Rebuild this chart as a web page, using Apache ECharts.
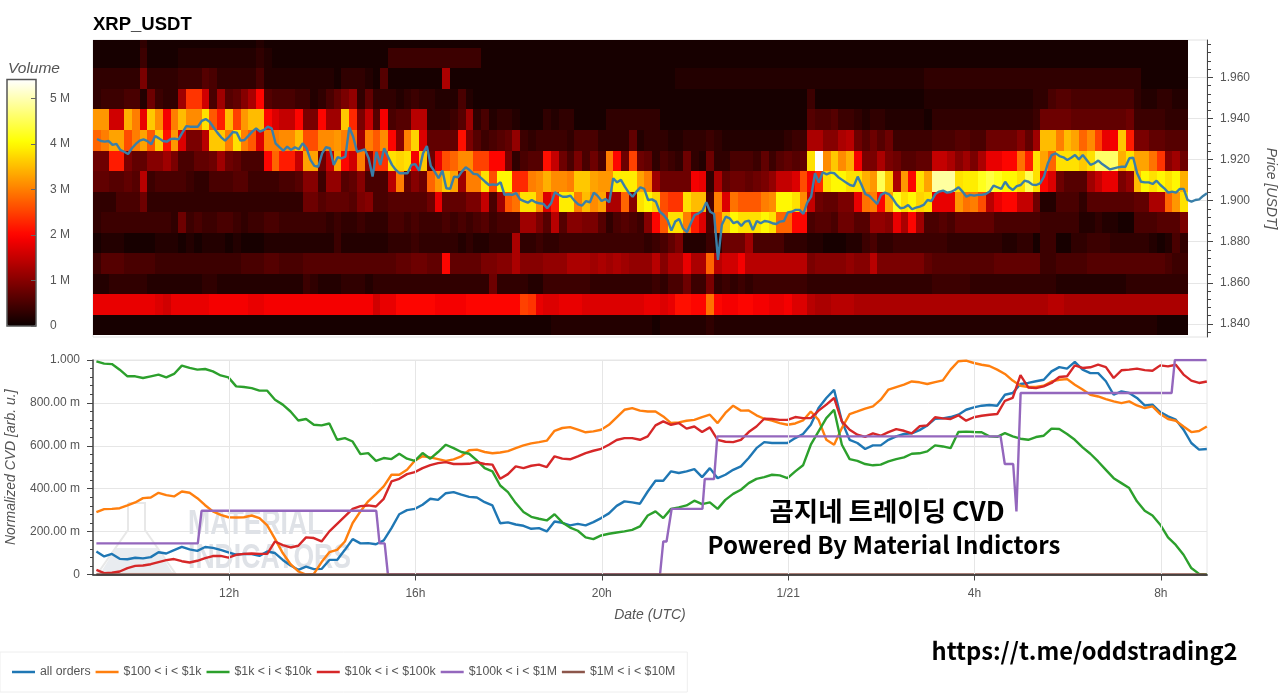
<!DOCTYPE html>
<html>
<head>
<meta charset="utf-8">
<title>XRP_USDT</title>
<script src="https://cdn.jsdelivr.net/npm/echarts@6/dist/echarts.min.js"></script>
<style>
  html, body { margin: 0; padding: 0; background: #fff; overflow: hidden; }
  #chart { width: 1280px; height: 693px; }
</style>
</head>
<body>
<div id="chart"></div>
<script>
// ── Heatmap values: volume per 10-min column, in 0.1 M, one array per price bin ──

const vol1979 = [1,1,1,1,1,1,3,1,1,1,1,1,1,1,1,1,1,1,1,1,1,2,1,1,1,1,1,1,1,1,1,1,1,1,1,1,
  1,1,1,1,1,1,1,1,1,1,1,1,1,1,1,1,1,1,1,1,1,1,1,1,1,1,1,1,1,1,1,1,1,1,1,
  1,1,1,1,1,1,1,1,1,1,1,1,1,1,1,1,1,1,1,1,1,1,1,1,1,1,1,1,1,1,1,1,1,1,1,1,
  1,1,1,1,1,1,1,1,1,1,1,1,1,1,1,1,1,1,1,1,1,1,1,1,1,1,1,1,1,1,1,1,1,1];
const vol1969 = [1,1,1,1,1,1,4,1,1,1,1,2,2,2,2,2,2,2,2,2,2,3,2,1,1,1,1,1,1,1,1,1,1,1,1,1,
  1,1,4,4,4,4,4,4,4,4,4,4,4,4,1,1,1,1,1,1,1,1,1,1,1,1,1,1,1,1,1,1,1,1,1,
  1,1,1,1,1,1,1,1,1,1,1,1,1,1,1,1,1,1,1,1,1,1,1,1,1,1,1,1,1,1,1,1,1,1,1,1,
  1,1,1,1,1,1,1,1,1,1,1,1,1,1,1,1,1,1,1,1,1,1,1,1,1,1,1,1,1,1,1,1,1,1];
const vol1959 = [3,3,3,3,3,3,9,3,3,3,3,4,4,4,6,5,3,3,3,3,3,5,2,2,2,2,2,2,2,2,2,1,3,3,3,2,
  1,6,1,1,1,1,1,1,1,13,1,1,1,1,1,1,1,1,1,1,1,1,1,1,1,1,1,1,1,1,1,1,1,1,1,
  1,1,1,1,2,2,2,2,2,2,2,2,2,2,2,2,2,2,2,2,2,2,2,2,2,2,2,2,2,2,2,2,2,2,2,2,
  3,3,3,3,3,3,3,3,3,3,3,3,3,3,3,3,3,3,3,3,3,3,3,3,3,3,3,3,1,1,1,1,1,1];
const vol1949 = [3,4,4,4,5,5,2,8,4,3,3,12,24,24,16,5,12,6,7,10,13,20,6,5,5,5,4,4,2,3,5,7,9,11,3,7,
  3,3,3,2,3,4,3,3,2,2,2,5,2,1,1,1,1,1,1,1,1,1,1,1,1,1,1,1,1,1,1,1,1,1,1,
  1,1,1,1,1,1,1,1,1,1,1,1,1,1,1,1,1,1,1,1,1,4,1,1,1,1,1,1,1,1,1,1,1,1,1,1,
  2,2,2,2,2,2,2,2,2,2,2,2,2,2,3,3,5,6,6,5,5,5,5,5,5,5,5,3,2,2,3,3,2,2];
const vol1939 = [32,32,16,16,34,30,18,36,31,19,30,35,31,31,38,27,22,35,25,32,35,35,20,17,15,15,20,9,9,20,12,12,36,23,9,15,
  6,19,5,6,6,14,14,3,3,3,4,6,12,3,5,2,3,3,2,1,1,1,3,2,3,3,1,1,1,1,3,3,3,3,3,
  3,3,1,1,1,1,1,1,1,1,1,1,1,1,1,1,1,1,1,1,1,6,5,5,6,4,4,3,2,3,3,2,2,2,2,2,
  1,3,3,3,3,3,3,3,3,3,3,3,3,3,4,8,8,8,8,7,7,7,7,7,7,7,8,4,4,4,4,3,3,3];
const vol1929 = [28,30,33,33,26,30,33,27,36,21,32,17,9,9,14,36,36,30,38,30,27,17,30,30,31,31,35,26,26,31,31,32,30,29,12,30,
  27,31,20,10,30,37,17,7,7,7,7,21,9,6,4,5,6,7,11,4,3,4,4,4,4,3,5,5,5,3,3,3,3,7,2,
  3,3,3,2,2,3,3,3,4,3,2,2,2,2,2,2,2,2,3,4,4,13,13,10,10,13,14,8,6,8,6,8,4,4,4,4,
  4,5,5,5,6,6,5,5,8,8,8,8,10,7,12,35,35,30,35,33,28,31,25,18,19,36,22,9,9,7,7,6,6,6];
const vol1919 = [8,8,22,22,9,7,7,10,10,12,9,5,5,7,7,8,12,8,7,5,5,5,20,28,22,22,15,33,33,8,15,33,20,16,30,11,
  24,24,38,37,38,19,36,8,18,26,28,31,31,25,25,20,20,9,3,5,6,6,21,15,8,5,9,5,8,5,30,20,8,25,8,
  7,3,5,4,3,8,3,2,8,3,3,5,5,5,4,7,4,6,7,6,7,38,54,31,36,31,34,19,9,9,13,9,8,6,6,7,
  7,15,15,13,10,12,9,13,18,18,20,20,29,22,38,33,28,38,38,38,36,38,46,46,46,34,38,33,33,29,24,10,12,8];
const vol1909 = [7,7,6,6,7,6,14,4,5,5,5,5,4,3,3,5,5,5,6,6,4,4,4,4,5,5,6,10,10,4,11,11,6,7,10,5,
  5,5,14,30,7,10,8,28,32,36,33,12,30,30,38,26,40,40,23,23,30,31,34,31,31,30,36,36,33,32,32,39,39,39,33,
  30,12,8,8,8,8,19,18,3,13,7,8,8,7,8,9,11,15,15,17,26,19,23,38,40,40,38,38,34,32,45,36,13,32,20,38,
  33,49,49,49,38,39,39,42,44,42,40,40,38,45,38,20,17,8,6,6,6,12,15,18,18,9,11,35,40,38,40,38,40,34];
const vol1899 = [3,3,3,5,5,5,8,3,3,3,3,3,3,3,3,3,3,3,3,3,3,3,3,3,3,3,3,8,8,6,7,7,7,6,9,10,
  5,5,6,6,6,6,6,8,18,7,7,7,9,9,15,5,12,27,29,38,38,31,17,22,39,39,30,35,31,33,13,13,28,10,38,
  40,37,26,24,24,38,35,35,5,30,17,29,27,27,27,30,31,40,40,38,31,15,8,7,7,9,9,18,29,30,20,33,42,38,40,37,
  38,18,18,18,32,29,30,26,14,18,20,20,15,15,8,2,2,5,5,5,3,6,6,6,6,6,6,7,7,13,13,28,32,38];
const vol1889 = [3,4,4,4,4,4,4,4,4,4,3,8,4,5,4,4,5,5,4,3,4,4,5,5,4,4,4,4,4,4,3,4,3,3,4,3,
  3,3,5,5,4,5,4,4,4,5,4,5,4,5,6,4,5,5,5,12,12,9,6,14,6,10,10,9,9,6,3,5,6,5,4,
  10,20,27,38,38,30,22,17,5,28,36,40,38,38,38,40,38,28,28,20,20,5,6,6,5,8,8,6,6,11,11,10,18,13,20,12,
  5,5,6,5,7,7,7,7,7,5,5,5,5,5,5,4,4,4,4,4,2,2,3,2,2,1,1,5,5,5,6,6,6,9];
const vol1879 = [1,2,2,2,1,1,1,1,2,2,2,1,2,1,2,2,2,1,2,1,1,1,2,2,2,2,2,2,2,2,2,4,2,2,2,2,
  2,2,3,3,3,4,3,3,3,3,3,2,3,2,2,3,3,3,13,3,3,4,3,3,4,4,4,4,4,4,4,4,4,4,4,
  3,4,5,7,9,2,2,2,4,3,8,8,8,12,5,5,5,5,3,3,3,2,2,1,1,1,2,2,4,5,3,3,4,4,4,4,
  4,4,4,3,3,3,3,3,3,3,2,2,3,3,1,4,4,1,1,3,3,4,4,4,3,3,3,3,3,2,1,2,5,3];
const vol1869 = [4,6,6,6,5,5,5,5,4,4,4,4,4,4,4,4,4,4,4,5,5,5,6,6,5,5,5,6,6,6,6,6,6,6,6,6,
  6,6,6,7,7,8,8,7,7,20,7,7,7,7,9,9,10,10,13,10,10,10,11,11,11,13,13,13,12,13,12,13,12,11,11,
  11,14,10,13,13,18,13,13,28,14,16,16,19,14,14,14,14,14,14,14,14,9,10,10,10,10,11,10,10,14,9,9,9,9,9,9,
  7,6,6,6,6,6,6,6,6,7,7,7,7,7,7,4,4,5,5,5,5,6,6,6,6,6,6,6,6,6,6,5,4,4];
const vol1859 = [2,2,3,3,3,3,3,2,2,2,2,2,2,2,3,3,2,2,2,2,2,2,2,2,2,2,2,4,3,2,2,2,3,3,3,2,
  3,3,3,3,3,3,3,3,3,3,3,3,3,3,3,8,3,3,3,3,2,2,4,4,4,4,4,4,3,3,3,3,3,3,3,
  3,4,3,5,5,8,4,4,9,3,4,3,4,3,4,4,4,4,4,4,4,3,3,3,3,3,3,3,3,3,3,3,3,3,3,3,
  3,4,4,4,4,4,3,3,3,3,3,3,3,3,3,3,3,2,2,2,2,2,2,2,2,2,3,3,3,3,3,3,3,3];
const vol1849 = [18,18,18,18,18,18,18,18,17,16,18,18,18,18,18,19,19,19,19,19,18,18,19,19,19,19,19,19,19,19,19,19,19,19,19,19,
  16,18,18,20,20,20,20,20,19,19,19,19,20,20,20,20,20,20,20,25,24,18,17,17,18,18,18,17,17,17,17,17,17,17,17,
  18,18,17,18,21,21,20,20,29,20,19,19,20,20,19,19,18,18,19,17,17,14,13,13,14,14,14,13,13,13,13,13,13,13,13,13,
  13,13,13,13,13,13,13,13,13,13,13,13,13,13,13,13,14,14,13,13,13,13,13,13,13,13,13,13,13,13,13,13,13,13];
const vol1839 = [1,1,1,1,1,1,1,1,1,1,1,1,1,1,1,1,1,1,1,1,1,1,1,1,1,1,1,1,1,1,1,1,1,1,1,1,
  1,1,1,1,1,1,1,1,1,1,1,1,1,1,1,1,1,1,1,1,1,1,1,2,2,2,2,2,2,2,2,2,2,2,2,
  2,1,2,2,2,2,2,2,3,2,2,2,2,2,2,2,2,2,2,2,2,2,2,2,2,2,2,2,2,2,2,2,2,2,2,2,
  2,2,2,2,2,2,2,2,2,2,2,2,2,2,2,2,2,2,2,2,2,2,2,2,2,2,2,2,2,2,1,1,1,1];

const volumeBands = [vol1839, vol1849, vol1859, vol1869, vol1879, vol1889, vol1899,
  vol1909, vol1919, vol1929, vol1939, vol1949, vol1959, vol1969, vol1979];

// ── Price line (5-min closes) ───────────────────────────────────────────────

const priceLine = [
  1.9300,1.9290,1.9287,1.9290,1.9271,1.9276,1.9247,1.9238,1.9227,1.9255,1.9276,1.9292,1.9298,1.9290,1.9274,1.9315,
  1.9303,1.9290,1.9287,1.9300,1.9302,1.9298,1.9331,1.9363,1.9360,1.9360,1.9360,1.9388,1.9397,1.9384,1.9357,1.9331,
  1.9308,1.9292,1.9311,1.9334,1.9331,1.9292,1.9295,1.9315,1.9336,1.9352,1.9336,1.9344,1.9360,1.9352,1.9279,1.9260,
  1.9243,1.9263,1.9247,1.9260,1.9250,1.9279,1.9255,1.9198,1.9169,1.9165,1.9230,1.9260,1.9255,1.9174,1.9211,1.9206,
  1.9214,1.9357,1.9311,1.9238,1.9243,1.9250,1.9206,1.9117,
  1.9238,1.9174,1.9255,1.9214,1.9174,1.9149,1.9133,1.9133,1.9133,1.9174,1.9178,1.9146,1.9230,1.9266,1.9169,1.9141,
  1.9109,1.9146,1.9060,1.9057,1.9117,1.9114,1.9141,1.9162,1.9149,1.9130,1.9128,1.9109,1.9092,1.9076,1.9079,1.9076,
  1.9089,1.9028,1.9031,1.9028,1.9036,1.9006,1.8998,1.8990,1.9003,1.8992,1.8987,1.8984,1.8963,1.8987,1.9041,1.9028,
  1.9019,1.9019,1.9024,1.9000,1.8982,1.8976,1.8998,1.8992,1.9039,1.9023,1.8998,1.9008,1.8992,1.9109,1.9089,1.9101,
  1.9068,1.9039,1.9019,1.9044,1.9065,1.9057,1.9003,
  1.9006,1.8995,1.8946,1.8930,1.8906,1.8854,1.8898,1.8911,1.8865,1.8846,1.8890,1.8930,1.8938,1.8951,1.8992,1.8946,
  1.8935,1.8711,1.8882,1.8922,1.8914,1.8890,1.8898,1.8877,1.8898,1.8903,1.8857,1.8901,1.8890,1.8901,1.8898,1.8890,
  1.8886,1.8898,1.8901,1.8943,1.8946,1.8955,1.8955,1.8935,1.8990,1.9019,1.9133,1.9088,1.9138,1.9128,1.9136,1.9133,
  1.9114,1.9101,1.9088,1.9076,1.9071,1.9117,1.9076,1.9031,1.9023,1.9003,1.8984,1.9028,1.9039,1.9032,1.9011,1.8982,
  1.8963,1.8966,1.8979,1.8958,1.8966,1.8971,1.8979,
  1.9003,1.8998,1.9032,1.9044,1.9049,1.9039,1.9042,1.9052,1.9065,1.9044,1.9019,1.9028,1.9024,1.9028,1.9028,1.9032,
  1.9044,1.9073,1.9065,1.9057,1.9092,1.9065,1.9052,1.9071,1.9076,1.9097,1.9092,1.9078,1.9076,1.9084,1.9117,1.9182,
  1.9222,1.9230,1.9217,1.9211,1.9198,1.9209,1.9222,1.9201,1.9222,1.9198,1.9174,1.9182,1.9195,1.9178,1.9165,1.9152,
  1.9157,1.9162,1.9165,1.9165,1.9206,1.9209,1.9133,1.9092,1.9089,1.9089,1.9081,1.9097,1.9076,1.9060,1.9039,1.9044,
  1.9039,1.9057,1.9057,1.9003,1.8995,1.9003,1.9006,1.9023,1.9036];

// ── Normalized CVD (10-min samples) ─────────────────────────────────────────

const cvdAll = [
  .107,.084,.096,.073,.071,.078,.075,.081,.104,.098,.114,.129,.117,.110,.128,.124,.115,.103,.092,.096,.095,.087,.107,.100,
  .068,.042,.022,.037,.025,.026,.068,.068,.115,.165,.145,.146,.141,.159,.216,.281,.300,.306,.325,.353,.348,.379,.384,.372,
  .362,.359,.337,.322,.239,.243,.233,.227,.213,.216,.201,.247,.241,.229,.236,.229,.244,.263,.285,.320,.341,.336,.330,.387,
  .437,.437,.481,.473,.481,.491,.454,.496,.449,.465,.488,.504,.543,.589,.617,.613,.613,.613,.636,.655,.698,.776,.823,.861,
  .714,.628,.613,.585,.602,.602,.628,.644,.655,.658,.673,.695,.726,.728,.734,.745,.768,.779,.787,.790,.787,.838,.846,.888,
  .893,.901,.908,.947,.967,.960,.991,.955,.939,.939,.901,.838,.854,.846,.823,.788,.792,.757,.737,.722,.675,.613,.582,.585];
const cvd100to1k = [
  .291,.305,.306,.309,.322,.336,.356,.359,.381,.370,.364,.387,.381,.356,.323,.294,.278,.267,.266,.267,.275,.263,.229,.166,
  .100,.048,.014,0,.003,.058,.104,.115,.154,.240,.294,.341,.375,.411,.465,.465,.488,.530,.551,.546,.538,.530,.537,.551,
  .579,.582,.571,.565,.569,.575,.589,.602,.611,.617,.624,.670,.683,.687,.675,.663,.667,.675,.698,.733,.768,.776,.764,.760,
  .760,.737,.706,.709,.717,.721,.734,.745,.706,.753,.787,.764,.765,.742,.726,.717,.706,.698,.704,.718,.760,.721,.628,.605,
  .683,.748,.760,.773,.784,.815,.862,.874,.885,.900,.896,.888,.897,.905,.955,.994,.997,.986,.978,.972,.955,.935,.904,.880,
  .874,.874,.880,.900,.908,.911,.885,.862,.838,.830,.818,.807,.799,.807,.788,.776,.784,.748,.725,.717,.690,.664,.669,.690];
const cvd1kto10k = [
  .994,.983,.981,.955,.924,.924,.916,.924,.932,.919,.935,.974,.963,.955,.958,.947,.928,.919,.877,.874,.869,.857,.857,.815,
  .792,.760,.718,.725,.698,.695,.704,.628,.636,.620,.561,.566,.530,.543,.538,.563,.540,.530,.566,.540,.571,.605,.589,.571,
  .563,.532,.496,.481,.415,.384,.333,.291,.269,.260,.252,.281,.243,.219,.204,.173,.165,.182,.190,.196,.201,.208,.224,.275,
  .294,.263,.306,.313,.322,.344,.328,.336,.306,.348,.376,.395,.426,.446,.454,.465,.462,.449,.481,.509,.605,.667,.729,.768,
  .605,.538,.530,.515,.509,.512,.527,.538,.546,.563,.565,.574,.602,.597,.589,.664,.666,.664,.663,.644,.642,.659,.644,.633,
  .628,.641,.647,.680,.678,.655,.628,.593,.563,.527,.488,.449,.426,.403,.341,.297,.275,.232,.173,.138,.092,.030,.003,0];
const cvd10kto100k = [
  .022,.006,.008,.014,.030,.040,.042,.048,.058,.067,.072,.062,.056,.064,.076,.086,.087,.079,.092,.096,.098,.096,.096,.154,
  .137,.126,.134,.173,.170,.154,.201,.236,.271,.306,.319,.322,.317,.353,.434,.446,.468,.477,.496,.510,.519,.524,.515,.515,
  .516,.524,.515,.512,.446,.468,.504,.496,.507,.512,.501,.551,.540,.537,.551,.566,.577,.586,.605,.627,.636,.636,.628,.644,
  .695,.714,.698,.706,.680,.690,.664,.686,.628,.619,.617,.628,.664,.690,.726,.725,.721,.721,.734,.729,.729,.764,.792,.823,
  .714,.675,.652,.642,.658,.647,.664,.678,.670,.658,.691,.695,.733,.728,.725,.742,.717,.733,.740,.745,.748,.810,.823,.930,
  .872,.869,.877,.893,.921,.924,.975,.963,.966,.978,.967,.916,.952,.955,.960,.953,.950,.975,.970,.978,.932,.904,.893,.900];

// the $100k-$1M line only moves in steps, so it keeps its own break points
const hours100kto1M = [9.153,11.33,11.41,15.16,15.23,15.34,15.41,21.25,21.32,21.39,21.50,22.16,22.21,22.41,22.48,
  28.56,28.65,28.83,28.90,28.99,32.23,32.30,32.98];
const cvd100kto1M = [.145,.145,.297,.297,.145,.145,0,0,.154,.154,.306,.306,.445,.445,.644,
  .644,.515,.515,.294,.846,.846,1,1];

const hours1Mto10M = [9.153, 32.98];
const cvd1Mto10M = [0, 0];

const seriesNames = ['all orders', '$100 < i < $1k', '$1k < i < $10k', '$10k < i < $100k', '$100k < i < $1M', '$1M < i < $10M'];
const seriesColors = ['#1f77b4', '#ff7f0e', '#2ca02c', '#d62728', '#9467bd', '#8c564b'];

const priceTicks = [1.84, 1.86, 1.88, 1.90, 1.92, 1.94, 1.96];
const hourTicks = [12, 16, 20, 24, 28, 32];
const volumeTicks = [0, 1, 2, 3, 4, 5];

// ── Axis ranges and bin sizes ───────────────────────────────────────────────

const START_HOUR = 9.08, END_HOUR = 32.99;
const COLUMN_HOURS = 1 / 6;
const BIN_SIZE = 0.01, FIRST_BIN_LOW = 1.8344;
const PRICE_MIN = 1.8336, PRICE_MAX = 1.9782;
const VOLUME_MAX = 5.42;

const LABEL_COLOR = '#555';
const AXIS_COLOR = '#444';
const FONT = '"Liberation Sans", Arial, sans-serif';

// ── Colour map (matplotlib style "hot") ─────────────────────────────────────

function hotColor(t) {
  const clamp = v => Math.round(Math.min(1, Math.max(0, v)) * 255);
  return `rgb(${clamp(0.0416 + t / 0.365 * 0.9584)},${clamp((t - 0.365) / 0.381)},${clamp((t - 0.746) / 0.254)})`;
}
const hotPalette = Array.from({ length: 41 }, (_, i) => hotColor(i / 40));

// ── Building series data ────────────────────────────────────────────────────

const heatData = [];
volumeBands.forEach((band, row) => {
  band.forEach((v, col) => {
    heatData.push([START_HOUR + col * COLUMN_HOURS, FIRST_BIN_LOW + row * BIN_SIZE, v / 10]);
  });
});

const priceStep = (END_HOUR - 9.166) / (priceLine.length - 1);
const priceData = priceLine.map((p, i) => [9.166 + i * priceStep, p]);
const cvdPoints = arr => arr.map((v, i) => [9.153 + i / 6, v]);
const pairUp = (hours, values) => hours.map((h, i) => [h, values[i]]);

function renderCell(params, api) {
  // snap to whole pixels, otherwise dark seams show between the cells
  const a = api.coord([api.value(0), api.value(1) + BIN_SIZE]).map(Math.round);
  const b = api.coord([api.value(0) + COLUMN_HOURS, api.value(1)]).map(Math.round);
  const shape = echarts.graphic.clipRectByRect(
    { x: a[0], y: a[1], width: b[0] - a[0], height: b[1] - a[1] },
    { x: params.coordSys.x, y: params.coordSys.y, width: params.coordSys.width, height: params.coordSys.height },
  );
  if (!shape) return null;
  return { type: 'rect', shape, style: { fill: api.visual('color') } };
}

function cvdSeries(idx, data) {
  return {
    name: seriesNames[idx], type: 'line', xAxisIndex: 1, yAxisIndex: 2,
    data, showSymbol: false, symbol: 'none', animation: false,
    lineStyle: { color: seriesColors[idx], width: 2.4 }, itemStyle: { color: seriesColors[idx] },
  };
}

function formatCvd(v) {
  if (v === 0) return '0';
  if (v >= 1) return '1.000';
  return (v * 1000).toFixed(2) + ' m';
}

function formatHour(v) {
  if (v === 24) return '1/21';
  return (v % 24) + 'h';
}

// ── Chart ───────────────────────────────────────────────────────────────────

const minorPriceTicks = [];
for (let p = 1836; p <= 1976; p += 4) minorPriceTicks.push(p / 1000);

const echart = echarts.init(document.getElementById('chart'), null, { renderer: 'canvas' });

echart.setOption({
  animation: false,
  backgroundColor: '#fff',
  title: {
    text: 'XRP_USDT', left: 93, top: 15, padding: 0,
    textStyle: { fontFamily: FONT, fontSize: 18.5, fontWeight: 'bold', color: '#000' },
  },
  grid: [
    { left: 93, right: 73, top: 40, height: 297, show: true, borderColor: '#e2e2e2', borderWidth: 1, outerBoundsMode: 'none' },
    { left: 93, right: 73, top: 360, height: 214.5, show: true, borderColor: '#e6e6e6', borderWidth: 1, outerBoundsMode: 'none' },
    { left: 7, width: 29, top: 79.5, height: 246.5, show: true, borderColor: '#555', borderWidth: 1.5, backgroundColor: 'transparent', z: 10, outerBoundsMode: 'none' },
  ],
  xAxis: [
    { type: 'value', gridIndex: 0, min: START_HOUR, max: END_HOUR, show: false },
    {
      type: 'value', gridIndex: 1, min: START_HOUR, max: END_HOUR, z: 6,
      name: 'Date (UTC)', nameLocation: 'middle', nameGap: 34,
      nameTextStyle: { fontFamily: FONT, fontStyle: 'italic', fontSize: 14, color: LABEL_COLOR },
      axisLine: { onZero: false, lineStyle: { color: 'rgba(60,60,60,0.85)', width: 2 } },
      axisTick: { show: true, length: 6, customValues: hourTicks, lineStyle: { color: AXIS_COLOR } },
      axisLabel: { customValues: hourTicks, formatter: formatHour, margin: 13, fontFamily: FONT, fontSize: 12, color: LABEL_COLOR },
      splitLine: { show: true, lineStyle: { color: '#e6e6e6' } },
    },
    { type: 'value', gridIndex: 2, show: false, min: 0, max: 1 },
  ],
  yAxis: [
    {
      type: 'value', gridIndex: 0, position: 'right', min: PRICE_MIN, max: PRICE_MAX,
      name: 'Price [USDT]', nameLocation: 'middle', nameRotate: -90, nameGap: 57,
      nameTextStyle: { fontFamily: FONT, fontStyle: 'italic', fontSize: 14, color: LABEL_COLOR },
      axisLine: { show: true, lineStyle: { color: AXIS_COLOR } },
      axisTick: { show: true, length: 6, customValues: priceTicks, lineStyle: { color: AXIS_COLOR } },
      axisLabel: { customValues: priceTicks, formatter: v => v.toFixed(3), margin: 13, fontFamily: FONT, fontSize: 12, color: LABEL_COLOR },
      splitLine: { show: true, lineStyle: { color: '#e6e6e6' } },
    },
    {
      type: 'value', gridIndex: 0, position: 'right', min: PRICE_MIN, max: PRICE_MAX,
      axisLine: { show: false }, axisLabel: { show: false }, splitLine: { show: false },
      axisTick: { show: true, length: 4, customValues: minorPriceTicks, lineStyle: { color: AXIS_COLOR } },
    },
    {
      type: 'value', gridIndex: 1, min: 0, max: 1, interval: 0.2,
      name: 'Normalized CVD [arb. u.]', nameLocation: 'middle', nameGap: 75,
      nameTextStyle: { fontFamily: FONT, fontStyle: 'italic', fontSize: 14, color: LABEL_COLOR },
      axisLine: { show: true, lineStyle: { color: AXIS_COLOR, width: 1.5 } },
      axisTick: { show: true, length: 6, lineStyle: { color: AXIS_COLOR } },
      minorTick: { show: true, splitNumber: 5, length: 3, lineStyle: { color: AXIS_COLOR } },
      axisLabel: { formatter: formatCvd, margin: 13, fontFamily: FONT, fontSize: 12, color: LABEL_COLOR },
      splitLine: { show: true, lineStyle: { color: '#e6e6e6' } },
    },
    {
      // colour bar labels
      type: 'value', gridIndex: 2, position: 'right', min: 0, max: VOLUME_MAX,
      axisLine: { show: false }, axisTick: { show: false }, splitLine: { show: false },
      axisLabel: { customValues: volumeTicks, margin: 14, fontFamily: FONT, fontSize: 12, color: LABEL_COLOR, formatter: v => (v === 0 ? '0' : v + ' M') },
    },
    {
      // colour bar ticks: a left axis moved across the bar, so they point into it
      type: 'value', gridIndex: 2, position: 'left', offset: -29, min: 0, max: VOLUME_MAX, z: 10,
      axisLine: { show: false }, axisLabel: { show: false }, splitLine: { show: false },
      axisTick: { show: true, length: 5, customValues: volumeTicks, lineStyle: { color: '#666' } },
    },
  ],
  visualMap: {
    type: 'continuous', seriesIndex: 0, dimension: 2, min: 0, max: VOLUME_MAX,
    left: 7, top: 79.5, itemWidth: 29, itemHeight: 246.5, padding: 0,
    calculable: false, text: null, showLabel: false, z: 1,
    textStyle: { color: 'transparent', fontSize: 1 },
    inRange: { color: hotPalette },
  },
  legend: {
    left: 0, top: 652, padding: [14, 12, 14, 12], itemGap: 5, itemWidth: 23, itemHeight: 2.5,
    borderColor: '#eeeeee', borderWidth: 1,
    data: seriesNames.map(name => ({ name, icon: 'rect' })),
    textStyle: { fontFamily: FONT, fontSize: 12.3, color: LABEL_COLOR },
    selectedMode: false,
  },
  graphic: [
    // colour bar title
    { type: 'text', x: 8, y: 69, style: { text: 'Volume', font: 'italic 15.5px ' + FONT, fill: LABEL_COLOR, textVerticalAlign: 'middle' } },
    // watermark behind the CVD lines
    { type: 'polyline', z: 1, shape: { points: [[128, 503], [145, 503], [145, 530], [175, 573], [98, 573], [128, 530], [128, 503]] },
      style: { stroke: '#e8e8e8', fill: null, lineWidth: 2 } },
    { type: 'polygon', z: 1, shape: { points: [[116, 548], [157, 548], [172, 572], [101, 572]] }, style: { fill: '#e9ecf0' } },
    { type: 'text', z: 1, x: 188, y: 507, scaleX: 0.76, style: { text: 'MATERIAL', font: 'bold 35px ' + FONT, fill: '#dfe2e7' } },
    { type: 'text', z: 1, x: 188, y: 541, scaleX: 0.76, style: { text: 'INDICATORS', font: 'bold 35px ' + FONT, fill: '#dfe2e7' } },
    // pasted-on captions
    { type: 'text', z: 20, x: 887, y: 511, style: { text: '곰지네 트레이딩 CVD', font: 'bold 26.5px "Noto Sans CJK KR"', fill: '#000', textAlign: 'center', textVerticalAlign: 'middle' } },
    { type: 'text', z: 20, x: 884, y: 545, style: { text: 'Powered By Material Indictors', font: 'bold 24px "Noto Sans CJK KR"', fill: '#000', textAlign: 'center', textVerticalAlign: 'middle' } },
    { type: 'text', z: 20, x: 1084.5, y: 651, style: { text: 'https://t.me/oddstrading2', font: 'bold 23.7px "Noto Sans CJK KR"', fill: '#000', textAlign: 'center', textVerticalAlign: 'middle' } },
  ],
  series: [
    {
      name: 'Volume', type: 'custom', xAxisIndex: 0, yAxisIndex: 0,
      renderItem: renderCell, data: heatData, encode: { x: 0, y: 1 }, animation: false, progressive: 0,
    },
    {
      name: 'Price', type: 'line', xAxisIndex: 0, yAxisIndex: 0, data: priceData, z: 5,
      symbol: 'none', showSymbol: false, animation: false,
      lineStyle: { color: '#3a7fa8', width: 2.4 },
    },
    cvdSeries(0, cvdPoints(cvdAll)),
    cvdSeries(1, cvdPoints(cvd100to1k)),
    cvdSeries(2, cvdPoints(cvd1kto10k)),
    cvdSeries(3, cvdPoints(cvd10kto100k)),
    cvdSeries(4, pairUp(hours100kto1M, cvd100kto1M)),
    cvdSeries(5, pairUp(hours1Mto10M, cvd1Mto10M)),
  ],
});
</script>
</body>
</html>
